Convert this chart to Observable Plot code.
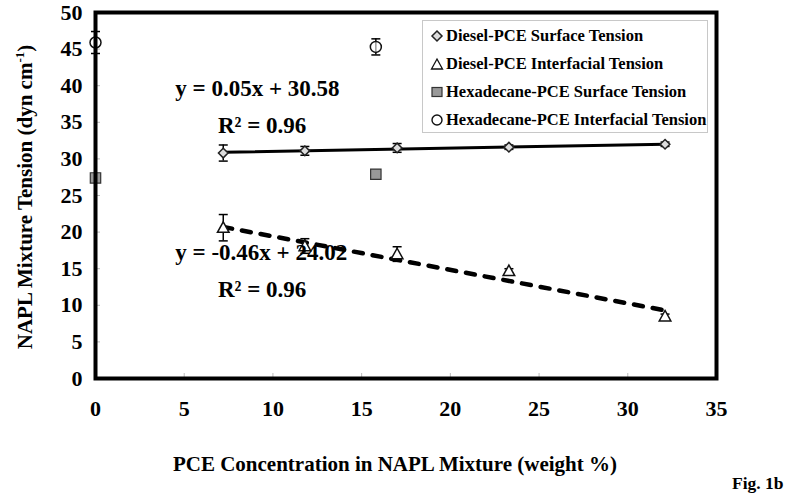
<!DOCTYPE html>
<html>
<head>
<meta charset="utf-8">
<script src="https://cdn.jsdelivr.net/npm/d3@7"></script>
<script src="https://cdn.jsdelivr.net/npm/@observablehq/plot@0.6"></script>
<style>
  html, body { margin: 0; padding: 0; background: #fff; }
  #wrap { position: relative; width: 800px; height: 500px; font-family: "Liberation Serif", "Times New Roman", serif; font-weight: bold; }
  #legend { position: absolute; left: 422px; top: 20px; width: 286px; height: 113px; border: 1px solid #c8c8c8; background: #fff; box-sizing: border-box; padding: 1px 0 0 7px; }
  #legend .row { display: flex; align-items: center; height: 28px; font-size: 16.5px; white-space: nowrap; }
  #legend svg { margin-right: 2px; }
  #fig { position: absolute; left: 732px; top: 473px; font-size: 17.5px; }
  #xtitle { position: absolute; left: 85px; width: 620px; top: 452px; text-align: center; font-size: 21px; line-height: 24px; }
  #ytitle { position: absolute; left: 25px; top: 197px; transform: translate(-50%, -50%) rotate(-90deg); white-space: nowrap; font-size: 21px; line-height: 24px; }
  #ytitle sup { font-size: 13px; vertical-align: 8px; line-height: 0; }
</style>
</head>
<body>
<div id="wrap">
  <div id="chart"></div>
  <div id="legend"></div>
  <div id="xtitle"></div>
  <div id="ytitle"></div>
  <div id="fig">Fig. 1b</div>
</div>
<script>
// ---- data ----
const dieselX = [7.2, 11.8, 17.0, 23.3, 32.1];
const dieselSurface = [30.8, 31.1, 31.5, 31.6, 32.0];
const dieselSurfaceErr = [1.1, 0.6, 0.6, 0.3, 0.3];
const dieselInterfacial = [20.6, 18.1, 17.0, 14.7, 8.5];
const dieselInterfacialErr = [1.8, 1.0, 1.0, 0.3, 0.3];
const hexX = [0, 15.8];
const hexSurface = [27.4, 27.9];
const hexInterfacial = [45.9, 45.3];
const hexInterfacialErr = [1.5, 1.1];
// trend line endpoints as drawn
const solidTrendX = [7.2, 32.1];
const solidTrendY = [30.9, 32.0];
const dashedTrendX = [7.2, 32.1];
const dashedTrendY = [20.7, 9.3];
const seriesNames = [
  "Diesel-PCE Surface Tension",
  "Diesel-PCE Interfacial Tension",
  "Hexadecane-PCE Surface Tension",
  "Hexadecane-PCE Interfacial Tension"
];
const xTitle = "PCE Concentration in NAPL Mixture (weight %)";
const yTitleMain = "NAPL Mixture Tension (dyn cm";
const yTitleSup = "-1";
const xTicks = [0, 5, 10, 15, 20, 25, 30, 35];
const yTicks = [0, 5, 10, 15, 20, 25, 30, 35, 40, 45, 50];
const equations = [
  {x: 4.5, y: 39.6, text: "y = 0.05x + 30.58"},
  {x: 6.9, y: 34.6, text: "R² = 0.96"},
  {x: 4.5, y: 17.2, text: "y = -0.46x + 24.02"},
  {x: 6.9, y: 12.1, text: "R² = 0.96"}
];

// ---- tables ----
const dS = dieselX.map((x, i) => ({x, y: dieselSurface[i], e: dieselSurfaceErr[i]}));
const dI = dieselX.map((x, i) => ({x, y: dieselInterfacial[i], e: dieselInterfacialErr[i]}));
const hS = hexX.map((x, i) => ({x, y: hexSurface[i]}));
const hI = hexX.map((x, i) => ({x, y: hexInterfacial[i], e: hexInterfacialErr[i]}));
const solid = solidTrendX.map((x, i) => ({x, y: solidTrendY[i]}));
const dashed = dashedTrendX.map((x, i) => ({x, y: dashedTrendY[i]}));
const errData = [...dS, ...dI, ...hI];

const cap = { draw(ctx, size) { const r = 4.5; ctx.moveTo(-r, 0); ctx.lineTo(r, 0); } };
const diamond = { draw(ctx, size) { const r = 4.8; ctx.moveTo(0, -r); ctx.lineTo(r, 0); ctx.lineTo(0, r); ctx.lineTo(-r, 0); ctx.closePath(); } };
const triangle = { draw(ctx, size) { const r = 5.8; ctx.moveTo(0, -r); ctx.lineTo(r, r * 0.8); ctx.lineTo(-r, r * 0.8); ctx.closePath(); } };
const square = { draw(ctx, size) { const r = 5.2; ctx.rect(-r, -r, 2 * r, 2 * r); } };

const font = "'Liberation Serif', 'Times New Roman', serif";

const chart = Plot.plot({
  width: 800,
  height: 500,
  marginLeft: 95,
  marginRight: 84,
  marginTop: 12,
  marginBottom: 122,
  style: {fontFamily: font, fontWeight: "bold", background: "#fff"},
  x: {domain: [0, 35], ticks: xTicks},
  y: {domain: [0, 50], ticks: yTicks},
  marks: [
    Plot.axisX({ticks: xTicks, tickSize: -5, tickPadding: 27, stroke: "#bbb", fill: "#000", fontSize: 22, label: null}),
    Plot.axisY({ticks: yTicks, tickSize: -5, tickPadding: 18, stroke: "#bbb", fill: "#000", fontSize: 22, label: null}),
    Plot.line(solid, {x: "x", y: "y", stroke: "#000", strokeWidth: 3}),
    Plot.line(dashed, {x: "x", y: "y", stroke: "#000", strokeWidth: 4.5, strokeDasharray: "9,10"}),
    Plot.ruleX(errData, {x: "x", y1: d => d.y - d.e, y2: d => d.y + d.e, stroke: "#000", strokeWidth: 1.5}),
    Plot.dot(errData, {x: "x", y: d => d.y - d.e, symbol: cap, stroke: "#000", strokeWidth: 1.5}),
    Plot.dot(errData, {x: "x", y: d => d.y + d.e, symbol: cap, stroke: "#000", strokeWidth: 1.5}),
    Plot.dot(dS, {x: "x", y: "y", symbol: diamond, fill: "#ddd", stroke: "#222", strokeWidth: 1.5}),
    Plot.dot(dI, {x: "x", y: "y", symbol: triangle, fill: "#fff", stroke: "#111", strokeWidth: 1.5}),
    Plot.dot(hS, {x: "x", y: "y", symbol: square, fill: "#999", stroke: "#333", strokeWidth: 1.2}),
    Plot.dot(hI, {x: "x", y: "y", r: 5.5, fill: "#fff", fillOpacity: 0.6, stroke: "#111", strokeWidth: 1.5}),
    Plot.text(equations, {x: "x", y: "y", text: "text", textAnchor: "start", fontSize: 23, fill: "#000"}),
    Plot.frame({stroke: "#000", strokeWidth: 4})
  ]
});
chart.querySelectorAll("text").forEach(t => t.setAttribute("font-weight", "bold"));
document.getElementById("chart").appendChild(chart);

document.getElementById("xtitle").textContent = xTitle;
document.getElementById("ytitle").innerHTML = yTitleMain + "<sup>" + yTitleSup + "</sup>)";

// ---- legend ----
const legendSymbols = [
  '<svg width="14" height="14"><path d="M7,2 L12,7 L7,12 L2,7Z" fill="#ddd" stroke="#222" stroke-width="1.5"/></svg>',
  '<svg width="14" height="14"><path d="M7,2 L12.5,12 L1.5,12Z" fill="#fff" stroke="#111" stroke-width="1.3"/></svg>',
  '<svg width="14" height="14"><rect x="2" y="2.5" width="10" height="9" fill="#999" stroke="#333" stroke-width="1.2"/></svg>',
  '<svg width="14" height="14"><circle cx="7" cy="7" r="5" fill="#fff" stroke="#111" stroke-width="1.4"/></svg>'
];
const legend = document.getElementById("legend");
seriesNames.forEach((name, i) => {
  const row = document.createElement("div");
  row.className = "row";
  row.innerHTML = legendSymbols[i] + "<span>" + name + "</span>";
  legend.appendChild(row);
});
</script>
</body>
</html>
